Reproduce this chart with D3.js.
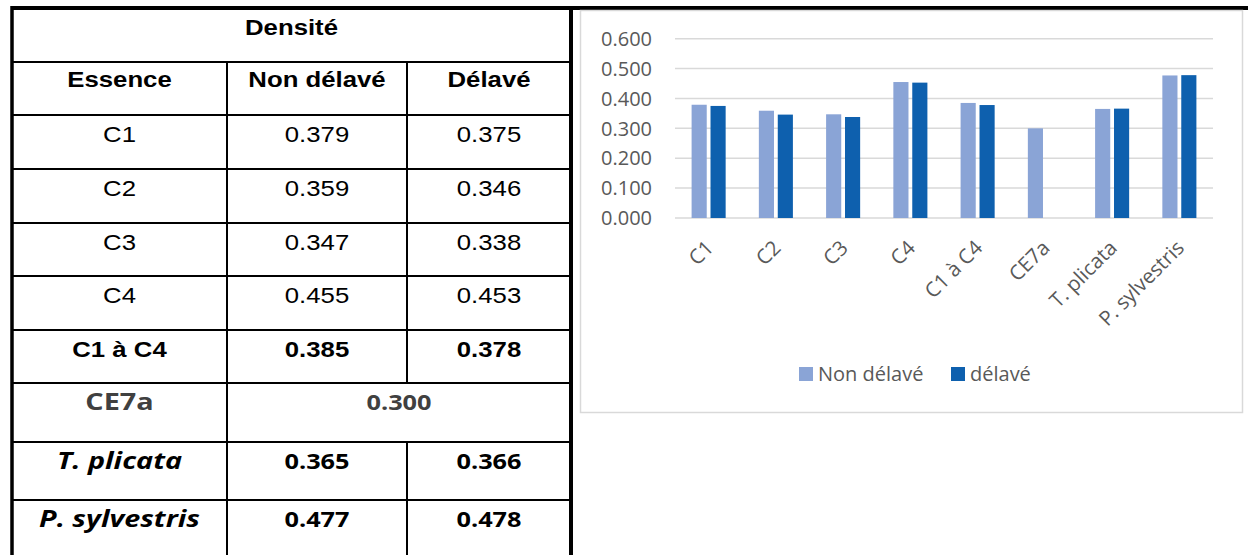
<!DOCTYPE html>
<html>
<head>
<meta charset="utf-8">
<title>Densité</title>
<script src="https://d3js.org/d3.v7.min.js"></script>
<style>
  body { margin: 0; background: #fff; }
  svg { display: block; }
</style>
</head>
<body>
<div id="chart"></div>
<script>
/* data */
var categories = ["C1", "C2", "C3", "C4", "C1 à C4", "CE7a", "T. plicata", "P. sylvestris"];
var nonDelave = [0.379, 0.359, 0.347, 0.455, 0.385, 0.300, 0.365, 0.477];
var delave = [0.375, 0.346, 0.338, 0.453, 0.378, null, 0.366, 0.478];
var seriesNames = ["Non délavé", "délavé"];
var tableTitle = "Densité";
var tableHeaders = ["Essence", "Non délavé", "Délavé"];
var yTicks = [0, 0.1, 0.2, 0.3, 0.4, 0.5, 0.6];

/* layout */
var W = 1248, H = 555;
var colors = ["#8aa4d6", "#0e60ae"];
var textGrey = "#595959";
var colEdges = [12, 227, 407, 571];
var rowEdges = [8, 62, 115, 169, 223, 276, 330, 383, 442, 500, 600];

var svg = d3.select("#chart").append("svg")
    .attr("width", W)
    .attr("height", H);

/* ---------- table ---------- */
var table = svg.append("g");

function cellText(x, y, txt, opts) {
    table.append("text")
        .attr("transform", "translate(" + x + "," + y + ") scale(" + (opts.stretch || 1.12) + ",1)")
        .attr("text-anchor", "middle")
        .style("font-family", opts.family || "'Liberation Sans', Arial, sans-serif")
        .style("font-size", (opts.size || 23) + "px")
        .style("font-weight", opts.bold ? "bold" : "normal")
        .style("font-style", opts.italic ? "italic" : "normal")
        .style("fill", opts.color || "#000")
        .text(txt);
}

// title row
cellText((colEdges[0] + colEdges[3]) / 2, rowEdges[0] + 27, tableTitle, {bold: true});
// header row
tableHeaders.forEach(function(h, i) {
    cellText((colEdges[i] + colEdges[i + 1]) / 2, rowEdges[1] + 25, h, {bold: true});
});

var fmt = d3.format(".3f");
categories.forEach(function(c, i) {
    var top = rowEdges[i + 2];
    var bold = i >= 4;
    var italic = i >= 6;
    var calib = i >= 5;
    var fam = calib ? "'Open Sans', sans-serif" : null;
    var col = i == 5 ? "#404040" : "#000";
    var size = calib ? 22 : 23;
    cellText((colEdges[0] + colEdges[1]) / 2, top + 27, c,
        {bold: bold, italic: italic, family: fam, color: col, size: calib ? 24 : 23, stretch: calib ? 1.2 : 1.12});
    if (delave[i] == null) {
        cellText((colEdges[1] + colEdges[3]) / 2, top + 27, fmt(nonDelave[i]), {bold: bold, family: fam, color: col, size: size, stretch: 1.15});
    } else {
        cellText((colEdges[1] + colEdges[2]) / 2, top + 27, fmt(nonDelave[i]), {bold: bold, family: fam, color: col, size: size, stretch: calib ? 1.15 : 1.12});
        cellText((colEdges[2] + colEdges[3]) / 2, top + 27, fmt(delave[i]), {bold: bold, family: fam, color: col, size: size, stretch: calib ? 1.15 : 1.12});
    }
});

// horizontal rules
rowEdges.slice(1, rowEdges.length - 1).forEach(function(y) {
    table.append("line")
        .attr("x1", colEdges[0]).attr("x2", colEdges[3])
        .attr("y1", y).attr("y2", y)
        .attr("stroke", "#000").attr("stroke-width", 2.2);
});
// vertical inner rules
table.append("line")
    .attr("x1", colEdges[1]).attr("x2", colEdges[1])
    .attr("y1", rowEdges[1]).attr("y2", H)
    .attr("stroke", "#000").attr("stroke-width", 2);
var ceRow = categories.indexOf("CE7a");
[[rowEdges[1], rowEdges[ceRow + 2]], [rowEdges[ceRow + 3], H]].forEach(function(seg) {
    table.append("line")
        .attr("x1", colEdges[2]).attr("x2", colEdges[2])
        .attr("y1", seg[0]).attr("y2", seg[1])
        .attr("stroke", "#000").attr("stroke-width", 2);
});
// outer borders
table.append("line").attr("x1", colEdges[0]).attr("x2", W).attr("y1", 8).attr("y2", 8)
    .attr("stroke", "#000").attr("stroke-width", 4);
table.append("line").attr("x1", colEdges[0]).attr("x2", colEdges[0]).attr("y1", 6).attr("y2", H)
    .attr("stroke", "#000").attr("stroke-width", 3.5);
table.append("line").attr("x1", colEdges[3]).attr("x2", colEdges[3]).attr("y1", 6).attr("y2", H)
    .attr("stroke", "#000").attr("stroke-width", 4);

/* ---------- chart ---------- */
var chart = svg.append("g");
chart.append("rect")
    .attr("x", 580.5).attr("y", 10.5)
    .attr("width", 662).attr("height", 402)
    .attr("fill", "#fff")
    .attr("stroke", "#d9d9d9").attr("stroke-width", 1.5);

var x0 = d3.scaleBand().domain(categories).range([675, 1213]);
var x1 = d3.scaleBand().domain(seriesNames)
    .range([16.6, x0.bandwidth() - 16.6])
    .paddingInner(0.2);
var y = d3.scaleLinear().domain([0, 0.6]).range([218, 38.7]);

// gridlines
chart.append("g").selectAll("line")
    .data(yTicks)
    .enter().append("line")
    .attr("x1", 675).attr("x2", 1213)
    .attr("y1", function(d) { return y(d); })
    .attr("y2", function(d) { return y(d); })
    .attr("stroke", "#d9d9d9").attr("stroke-width", 1.5);

// y labels
chart.append("g").selectAll("text")
    .data(yTicks)
    .enter().append("text")
    .attr("x", 652)
    .attr("y", function(d) { return y(d); })
    .attr("dy", "0.36em")
    .attr("text-anchor", "end")
    .style("font-family", "'Open Sans', sans-serif")
    .style("font-size", "20px")
    .style("fill", textGrey)
    .text(function(d) { return fmt(d); });

// bars
var groups = chart.append("g").selectAll("g")
    .data(categories)
    .enter().append("g")
    .attr("transform", function(d) { return "translate(" + x0(d) + ",0)"; });

groups.selectAll("rect")
    .data(function(d, i) {
        return [{s: seriesNames[0], v: nonDelave[i], k: 0}, {s: seriesNames[1], v: delave[i], k: 1}]
            .filter(function(e) { return e.v != null; });
    })
    .enter().append("rect")
    .attr("x", function(d) { return x1(d.s); })
    .attr("y", function(d) { return y(d.v); })
    .attr("width", x1.bandwidth())
    .attr("height", function(d) { return y(0) - y(d.v); })
    .attr("fill", function(d) { return colors[d.k]; });

// x labels (rotated)
chart.append("g").selectAll("text")
    .data(categories)
    .enter().append("text")
    .attr("transform", function(d) {
        return "translate(" + (x0(d) + x0.bandwidth() / 2 + 1) + ",244) rotate(-45)";
    })
    .attr("text-anchor", "end")
    .attr("dy", "0.35em")
    .style("font-family", "'Open Sans', sans-serif")
    .style("font-size", "20.5px")
    .style("fill", textGrey)
    .text(function(d) { return d; });

// legend
var legendPos = [799, 951];
var legend = chart.append("g").selectAll("g")
    .data(seriesNames)
    .enter().append("g")
    .attr("transform", function(d, i) { return "translate(" + legendPos[i] + ",367)"; });
legend.append("rect")
    .attr("width", 14).attr("height", 14)
    .attr("fill", function(d, i) { return colors[i]; });
legend.append("text")
    .attr("x", 19).attr("y", 7)
    .attr("dy", "0.36em")
    .style("font-family", "'Open Sans', sans-serif")
    .style("font-size", "20px")
    .style("fill", textGrey)
    .text(function(d) { return d; });
</script>
</body>
</html>
